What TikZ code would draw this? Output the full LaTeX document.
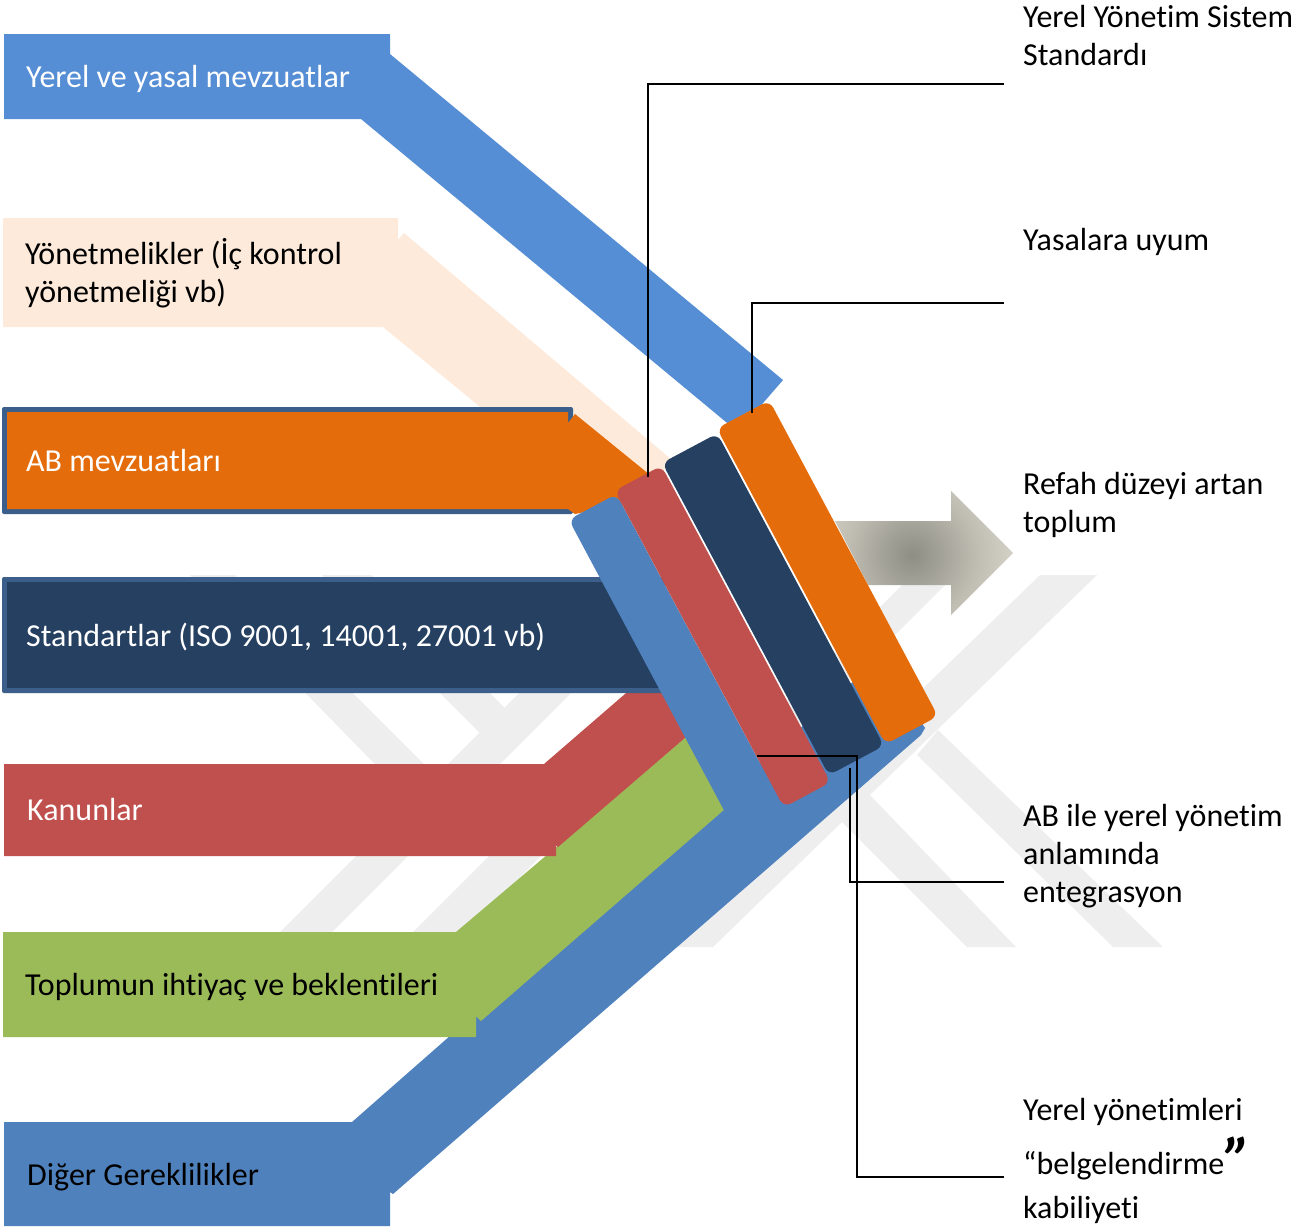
\documentclass[tikz,border=0pt]{standalone}
\usepackage{fontspec}
\setmainfont{Carlito}[Ligatures=NoCommon]
\definecolor{wm}{HTML}{EEEEEE}
\definecolor{blueA}{HTML}{558ED5}
\definecolor{peachA}{HTML}{FDEADA}
\definecolor{orangeA}{HTML}{E46C0A}
\definecolor{navyA}{HTML}{254061}
\definecolor{edgeA}{HTML}{3B5F8A}
\definecolor{redA}{HTML}{C0504D}
\definecolor{greenA}{HTML}{9BBB59}
\definecolor{blueB}{HTML}{4F81BD}
\definecolor{glowA}{HTML}{8E8E84}
\definecolor{glowB}{HTML}{A3A298}
\definecolor{glowC}{HTML}{C0BEB3}
\definecolor{glowD}{HTML}{D4D2C6}
\pgfdeclareradialshading{arrowglow}{\pgfpointorigin}{color(0bp)=(glowA); color(7bp)=(glowB); color(16bp)=(glowC); color(25bp)=(glowD); color(50bp)=(glowD)}
\tikzset{
  lbl/.style={anchor=base west,inner sep=0pt,align=left,font=\fontsize{32}{38}\selectfont},
  lblw/.style={lbl,text=white},
  barshape/.style={rectangle,draw=none,inner sep=0pt,rotate=-61.9,rounded corners=8pt,minimum width=358pt},
  leader/.style={draw=black,line width=2pt,line cap=butt,line join=miter},
  band/.style={fill=wm,draw=none}
}
\begin{document}
\begin{tikzpicture}[x=1pt,y=-1pt]
\useasboundingbox (0,0) rectangle (1305,1229);
% watermark
\path[band] (637,575) -- (689,575) -- (317,947) -- (265,947) -- cycle;
\path[band] (190,575) -- (235,575) -- (436,776) -- (411,801) -- cycle;
\path[band] (322,575) -- (372,575) -- (504.5,707.5) -- (480,733) -- cycle;
\path[band] (398,947) -- (450,947) -- (600,797) -- (548,797) -- cycle;
\path[band] (912,575) -- (955,575) -- (583,947) -- (540,947) -- cycle;
\path[band] (1040,575) -- (1097,575) -- (713,947) -- (656,947) -- cycle;
\path[band] (810,790) -- (870,795) -- (1016,947) -- (967,947) -- cycle;
\path[band] (917,755) -- (938,730) -- (1163,947) -- (1113,947) -- cycle;
% glowing arrow
\begin{scope}
\clip (835,521) -- (951,521) -- (951,491) -- (1013,553) -- (951,615) -- (951,585) -- (868,585) -- cycle;
\shade[shading=arrowglow] (912,555) circle (102);
\end{scope}
% input arrows
\fill[blueA] (4,34) -- (390,34) -- (390,54) -- (783,380) -- (738,432) -- (361,119) -- (4,119) -- cycle;
\fill[peachA] (3,218) -- (398,218) -- (398,240) -- (404,233) -- (672,460) -- (620,522) -- (383,327) -- (3,327) -- cycle;
\fill[edgeA,rounded corners=2pt] (2,407) rectangle (573,514);
\fill[orangeA] (7,412) -- (568,412) -- (568,423) -- (575,414) -- (650,475) -- (620,505) -- (575,514) -- (568,509) -- (7,509) -- cycle;
\fill[blueB] (4,1122) -- (352,1122) -- (880,658) -- (925,728) -- (921,735) -- (393,1194) -- (390,1192) -- (390,1226) -- (4,1226) -- cycle;
\fill[greenA] (3,932) -- (456,932) -- (686,737) -- (725,809) -- (481,1021) -- (476,1016) -- (476,1037) -- (3,1037) -- cycle;
\fill[redA] (4,764) -- (544,764) -- (640,681) -- (710,720) -- (686,737) -- (558,847) -- (556,845) -- (556,856) -- (4,856) -- cycle;
\fill[edgeA,rounded corners=2pt] (2,577) rectangle (665,693);
\fill[navyA] (7,582) rectangle (663,688);
% bars
\node[barshape,fill=blueB,minimum height=54pt] (barblue) at (676.9,664.75) {};
\node[barshape,fill=redA,minimum height=53pt,minimum width=359pt] (barred) at (722.6,636.5) {};
\node[barshape,fill=navyA,minimum height=62.5pt,minimum width=354pt] (barnavy) at (773.05,604.3) {};
\node[barshape,fill=orangeA,minimum height=59.5pt] (barorange) at (827.4,572.3) {};
% input labels
\node[lblw] (t1) at (26,87) {Yerel ve yasal mevzuatlar};
\node[lbl] (t2) at (25,302) {Yönetmelikler (İç kontrol\\yönetmeliği vb)};
\node[lblw] (t3) at (26,471) {AB mevzuatları};
\node[lblw] (t4) at (26,646) {Standartlar (ISO 9001, 14001, 27001 vb)};
\node[lblw] (t5) at (27,820) {Kanunlar};
\node[lbl] (t6) at (25,995) {Toplumun ihtiyaç ve beklentileri};
\node[lbl] (t7) at (27,1185) {Diğer Gereklilikler};
% output labels
\node[lbl] (o1) at (1023,65) {Yerel Yönetim Sistem\\Standardı};
\node[lbl] (o2) at (1023,250) {Yasalara uyum};
\node[lbl] (o3) at (1023,532) {Refah düzeyi artan\\toplum};
\node[lbl] (o4) at (1023,902) {AB ile yerel yönetim\\anlamında\\entegrasyon};
\node[lbl] (o5) at (1023,1218) {Yerel yönetimleri\\[16pt]“belgelendirme\smash{\raisebox{-7pt}{\fontsize{62}{62}\selectfont\bfseries\itshape ”}}\\[6pt]kabiliyeti};
% leaders
\coordinate (e1) at (1004,84);
\coordinate (e2) at (1004,303);
\coordinate (e3) at (1004,882);
\coordinate (e4) at (1004,1177);
\coordinate (s1) at (648,477);
\coordinate (s2) at (751.5,413);
\coordinate (s3) at (849.5,768);
\coordinate (s4) at (757,756);
\draw[leader] (e1) -| (s1);
\draw[leader] (e2) -| (s2);
\draw[leader] (e3) -| (s3);
\draw[leader] (e4) -| (857,756) -- (s4);
\end{tikzpicture}
\end{document}
